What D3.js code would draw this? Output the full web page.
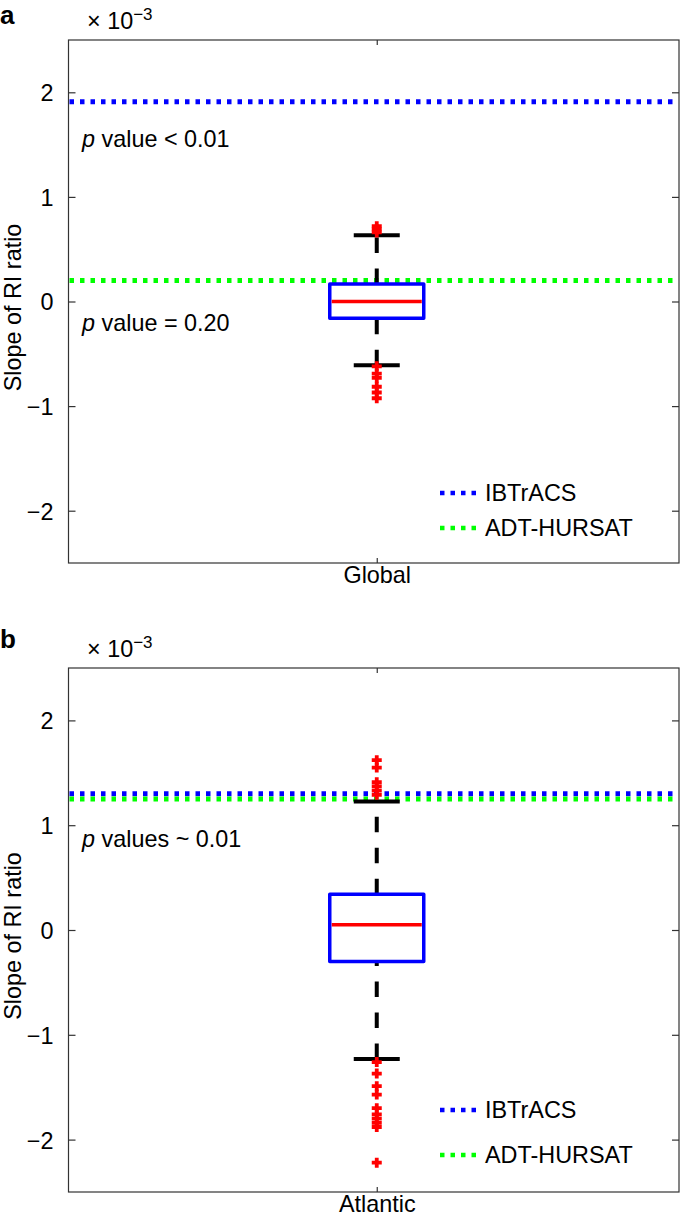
<!DOCTYPE html>
<html>
<head>
<meta charset="utf-8">
<script src="https://cdn.jsdelivr.net/npm/d3@7"></script>
<style>
  html, body { margin: 0; padding: 0; background: #fff; }
  svg { display: block; }
  text { font-family: "Liberation Sans", Arial, Helvetica, sans-serif; fill: #000; }
</style>
</head>
<body>
<svg id="chart" width="685" height="1218"></svg>
<script>
// ---------------- data ----------------
const panelLetters = ["a", "b"];
const categories = ["Global", "Atlantic"];
const yTicks = [-2, -1, 0, 1, 2];
const yDomain = [-2.5, 2.5];
const exponentLabel = "−3";

// box statistics (units of 1e-3)
const boxQ1 = [-0.16, -0.30];
const boxMedian = [0.0, 0.05];
const boxQ3 = [0.167, 0.34];
const whiskerLow = [-0.61, -1.23];
const whiskerHigh = [0.633, 1.227];

// outliers
const outliersGlobal = [0.72, 0.69, 0.66, -0.62, -0.69, -0.73, -0.815, -0.87, -0.925];
const outliersAtlantic = [1.62, 1.55, 1.41, 1.37, 1.33, 1.29,
  -1.26, -1.37, -1.49, -1.57, -1.70, -1.76, -1.80, -1.84, -1.88, -2.22];

// reference slopes
const seriesNames = ["IBTrACS", "ADT-HURSAT"];
const seriesColors = ["#0000ff", "#00ff00"];
const ibtracsSlope = [1.91, 1.30];
const adtSlope = [0.20, 1.25];

// p-value annotations
const pAnnotText = [" value < 0.01", " value = 0.20", " values ~ 0.01"];
const pAnnotPanel = [0, 0, 1];
const pAnnotY = [1.48, -0.28, 0.79];

// ---------------- layout ----------------
const svg = d3.select("#chart");
const left = 68.5, right = 679;
const panelTops = [40, 668];
const panelBottoms = [563, 1192];
const legendYs = [[493, 528], [1110, 1155]];
const letterYs = [24, 648];
const FS = 23.4;
const FONT = "Liberation Sans, Arial, sans-serif";

const outliers = [outliersGlobal, outliersAtlantic];

panelLetters.forEach((letter, i) => {
  const top = panelTops[i], bottom = panelBottoms[i];
  const g = svg.append("g");
  const y = d3.scaleLinear().domain(yDomain).range([bottom, top]);
  const x = d3.scaleLinear().domain([0.5, 1.5]).range([left + 6, right]);
  const cx = x(1);

  // frame
  g.append("rect").attr("x", left).attr("y", top)
    .attr("width", right - left).attr("height", bottom - top)
    .attr("fill", "none").attr("stroke", "#333").attr("stroke-width", 1.2);

  // left axis ticks (inside)
  const yAxisL = d3.axisLeft(y).tickValues(yTicks).tickSize(-7).tickPadding(15)
    .tickFormat(d => d < 0 ? "−" + Math.abs(d) : String(d));
  const gl = g.append("g").attr("transform", `translate(${left},0)`).call(yAxisL);
  gl.select(".domain").remove();
  gl.selectAll(".tick line").attr("stroke", "#333").attr("stroke-width", 1.2);
  gl.selectAll(".tick text").attr("font-size", FS).attr("font-family", FONT)
    .attr("fill", "#000").attr("dy", "0.36em");

  // right axis ticks (inside)
  const yAxisR = d3.axisRight(y).tickValues(yTicks).tickSize(-7).tickFormat("");
  const gr = g.append("g").attr("transform", `translate(${right},0)`).call(yAxisR);
  gr.select(".domain").remove();
  gr.selectAll(".tick line").attr("stroke", "#333").attr("stroke-width", 1.2);

  // x tick bottom / top
  const xAxisB = d3.axisBottom(x).tickValues([1]).tickSize(-5).tickFormat("");
  const gb = g.append("g").attr("transform", `translate(0,${bottom})`).call(xAxisB);
  gb.select(".domain").remove();
  gb.selectAll(".tick line").attr("stroke", "#333").attr("stroke-width", 1.2);
  gb.selectAll(".tick").append("text").attr("class", "cat")
    .attr("y", 20).attr("text-anchor", "middle")
    .attr("font-size", FS).attr("font-family", FONT).attr("fill", "#000")
    .text(categories[i]);
  const xAxisT = d3.axisTop(x).tickValues([1]).tickSize(-5).tickFormat("");
  const gt = g.append("g").attr("transform", `translate(0,${top})`).call(xAxisT);
  gt.select(".domain").remove();
  gt.selectAll(".tick line").attr("stroke", "#333").attr("stroke-width", 1.2);

  // exponent label
  const ex = g.append("text").attr("x", 87).attr("y", top - 11).attr("font-size", FS);
  ex.append("tspan").text("× 10");
  ex.append("tspan").attr("font-size", 17).attr("dy", -9).text(exponentLabel);

  // panel letter
  g.append("text").attr("x", 0).attr("y", letterYs[i])
    .attr("font-size", 26).attr("font-weight", "bold").text(letter);

  // y label
  g.append("text")
    .attr("transform", `translate(21,${(top + bottom) / 2 + 6}) rotate(-90)`)
    .attr("text-anchor", "middle").attr("font-size", FS)
    .text("Slope of RI ratio");

  // reference dotted lines
  const refVals = [ibtracsSlope[i], adtSlope[i]];
  refVals.forEach((v, k) => {
    g.append("line").attr("x1", left + 1).attr("x2", right - 1)
      .attr("y1", y(v)).attr("y2", y(v))
      .attr("stroke", seriesColors[k]).attr("stroke-width", 5)
      .attr("stroke-dasharray", "4.5,6");
  });

  // whiskers (dashed, drawn from bottom to top)
  const dash = "15.5,15.5";
  g.append("path").attr("d", `M${cx},${y(boxQ3[i])}V${y(whiskerHigh[i])}`)
    .attr("stroke", "#000").attr("stroke-width", 4).attr("stroke-dasharray", dash).attr("fill", "none");
  g.append("path").attr("d", `M${cx},${y(whiskerLow[i])}V${y(boxQ1[i])}`)
    .attr("stroke", "#000").attr("stroke-width", 4).attr("stroke-dasharray", dash).attr("fill", "none");
  // caps
  [whiskerHigh[i], whiskerLow[i]].forEach(v => {
    g.append("line").attr("x1", cx - 23).attr("x2", cx + 23)
      .attr("y1", y(v)).attr("y2", y(v))
      .attr("stroke", "#000").attr("stroke-width", 4);
  });

  // box
  const bw = 94;
  g.append("rect").attr("x", cx - bw / 2).attr("y", y(boxQ3[i]))
    .attr("width", bw).attr("height", y(boxQ1[i]) - y(boxQ3[i]))
    .attr("fill", "none").attr("stroke", "#0000ff").attr("stroke-width", 3.5)
    .attr("stroke-linejoin", "round");
  // median
  g.append("line").attr("x1", cx - bw / 2 + 2).attr("x2", cx + bw / 2 - 2)
    .attr("y1", y(boxMedian[i])).attr("y2", y(boxMedian[i]))
    .attr("stroke", "#ff0000").attr("stroke-width", 3.5);

  // outliers
  g.selectAll("path.out").data(outliers[i]).enter().append("path")
    .attr("class", "out")
    .attr("d", d => `M${cx - 5},${y(d)}H${cx + 5}M${cx},${y(d) - 5}V${y(d) + 5}`)
    .attr("stroke", "#ff0000").attr("stroke-width", 3.8).attr("fill", "none");

  // p-value annotations
  pAnnotText.forEach((t, k) => {
    if (pAnnotPanel[k] !== i) return;
    const tx = g.append("text").attr("x", 82).attr("y", y(pAnnotY[k])).attr("font-size", FS);
    tx.append("tspan").attr("font-style", "italic").text("p");
    tx.append("tspan").text(t);
  });

  // legend
  seriesNames.forEach((name, k) => {
    const ly = legendYs[i][k];
    g.append("line").attr("x1", 440).attr("x2", 477).attr("y1", ly).attr("y2", ly)
      .attr("stroke", seriesColors[k]).attr("stroke-width", 4.5)
      .attr("stroke-dasharray", "4.5,6");
    g.append("text").attr("x", 485).attr("y", ly).attr("dy", "0.36em")
      .attr("font-size", FS).text(name);
  });
});
</script>
</body>
</html>
